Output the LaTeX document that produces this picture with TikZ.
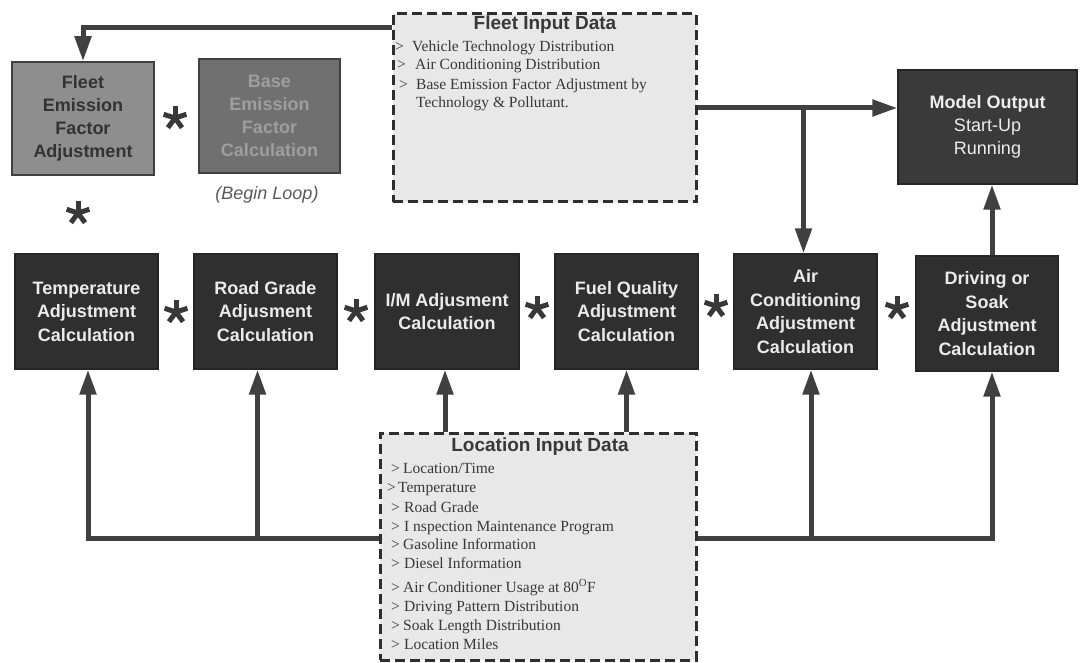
\documentclass[tikz,border=0pt]{standalone}
\usepackage{fontspec}
\setmainfont{Liberation Serif}
\setsansfont{Liberation Sans}
\usetikzlibrary{arrows.meta}
\definecolor{darkbox}{HTML}{2F2F2F}
\definecolor{modelbox}{HTML}{3A3A3A}
\definecolor{fleetbox}{HTML}{8E8E8E}
\definecolor{basebox}{HTML}{707070}
\definecolor{inputfill}{HTML}{E8E8E8}
\definecolor{arrowc}{HTML}{404040}
\definecolor{txtc}{HTML}{383838}
\begin{document}
\begin{tikzpicture}[x=1pt,y=-1pt,
  darkbx/.style={draw=black!85, line width=1.2pt, fill=darkbox, text=white!92!black,
    font=\sffamily\bfseries\fontsize{18}{23.5}\selectfont, align=center, inner sep=0pt},
  graybx/.style={draw=black!75, line width=1.5pt, align=center, inner sep=0pt,
    font=\sffamily\bfseries\fontsize{18}{23}\selectfont},
  databx/.style={draw=black!82, dashed, dash pattern=on 10pt off 5pt, line width=3pt,
    fill=inputfill, inner sep=0pt},
  ttl/.style={font=\sffamily\bfseries\fontsize{19}{22}\selectfont, text=txtc, inner sep=0pt},
  dtxt/.style={font=\fontsize{15.5}{19}\selectfont, text=txtc, anchor=base west, inner sep=0pt},
  arr/.style={line width=5pt, draw=arrowc, -{Triangle[length=25pt,width=16pt]}},
  astline/.style={line width=5pt, draw=txtc},
  ast/.pic={\foreach \a in {-90,-18,-162,54,126} \draw[astline] (0,0) -- (\a:12);}
]
\useasboundingbox (0,0) rectangle (1080,663);

% input data boxes
\node[databx, minimum width=303pt, minimum height=188pt] (fin) at (544.5,108) {};
\node[databx, minimum width=316pt, minimum height=227pt] (lin) at (538,546.5) {};

% top row
\node[graybx, fill=fleetbox, text=black!80, minimum width=142pt, minimum height=113pt] (fleet) at (83,118.5)
  {Fleet\\Emission\\Factor\\Adjustment};
\node[graybx, fill=basebox, text=black!38, minimum width=141pt, minimum height=114pt] (base) at (269.5,116)
  {Base\\Emission\\Factor\\Calculation};
\node[draw=black!85, line width=1.2pt, fill=modelbox, text=white!93!black, align=center, inner sep=0pt,
  font=\sffamily\fontsize{18}{23}\selectfont, minimum width=179pt, minimum height=114pt] (model) at (987.5,127)
  {\textbf{Model Output}\\Start-Up\\Running};
\node[font=\sffamily\itshape\fontsize{18}{22}\selectfont, text=black!65, inner sep=0pt] (bl) at (267,195) {(Begin Loop)};

% second row
\node[darkbx, minimum width=143pt, minimum height=115pt] (temp) at (86.5,311.5) {Temperature\\Adjustment\\Calculation};
\node[darkbx, minimum width=143pt, minimum height=115pt] (road) at (265.5,311.5) {Road Grade\\Adjusment\\Calculation};
\node[darkbx, minimum width=144pt, minimum height=115pt] (im) at (447,311.5) {I/M Adjusment\\Calculation};
\node[darkbx, minimum width=143pt, minimum height=115pt] (fuel) at (626.5,311.5) {Fuel Quality\\Adjustment\\Calculation};
\node[darkbx, minimum width=143pt, minimum height=115pt] (ac) at (805.5,311.5) {Air\\Conditioning\\Adjustment\\Calculation};
\node[darkbx, minimum width=142pt, minimum height=115pt] (drv) at (987,313.5) {Driving or\\Soak\\Adjustment\\Calculation};

% asterisks
\pic at (175,118) {ast};
\pic at (78,213) {ast};
\pic at (176,312) {ast};
\pic at (356,311) {ast};
\pic at (537,308) {ast};
\pic at (716,306) {ast};
\pic at (897,308) {ast};

% fleet input text
\node[ttl] (fint) at (545,25) {Fleet Input Data};
\node[dtxt] (f1) at (395,52) {\makebox[17pt][l]{>}Vehicle Technology Distribution};
\node[dtxt] (f2) at (397,70) {\makebox[18pt][l]{>}Air Conditioning Distribution};
\node[dtxt] (f3) at (399,90) {\makebox[17pt][l]{>}Base Emission Factor Adjustment by};
\node[dtxt] (f4) at (416,108) {Technology \& Pollutant.};

% location input text
\node[ttl] (lint) at (540,447) {Location Input Data};
\node[dtxt] (l1) at (391,473) {\makebox[12pt][l]{>}Location/Time};
\node[dtxt] (l2) at (387,492) {\makebox[11pt][l]{>}Temperature};
\node[dtxt] (l3) at (391,512) {\makebox[13pt][l]{>}Road Grade};
\node[dtxt] (l4) at (391,531) {\makebox[13pt][l]{>}I nspection Maintenance Program};
\node[dtxt] (l5) at (391,549) {\makebox[12pt][l]{>}Gasoline Information};
\node[dtxt] (l6) at (391,568) {\makebox[13pt][l]{>}Diesel Information};
\node[dtxt] (l7) at (391,592) {\makebox[12pt][l]{>}Air Conditioner Usage at 80\textsuperscript{O}F};
\node[dtxt] (l8) at (391,611) {\makebox[13pt][l]{>}Driving Pattern Distribution};
\node[dtxt] (l9) at (391,630) {\makebox[12pt][l]{>}Soak Length Distribution};
\node[dtxt] (l10) at (391,649) {\makebox[13pt][l]{>}Location Miles};

% connectors
\draw[arr] ([yshift=-15pt]fin.north west) -| (fleet.north);
\draw[arr] (fin.east) -- (fin.east -| model.west);
\draw[arr] ([xshift=-2pt]ac.north |- fin.east) -- ([xshift=-2pt]ac.north);
\draw[arr] ([xshift=5pt]drv.north) -- ([xshift=5pt]drv.north |- model.south);
\draw[arr] ([xshift=-2pt]im.south |- lin.north) -- ([xshift=-2pt]im.south);
\draw[arr] (fuel.south |- lin.north) -- (fuel.south);
\coordinate (ll) at ([yshift=-107pt]lin.north west);
\coordinate (lr) at ([yshift=-107pt]lin.north east);
\draw[arr] (ll) -| ([xshift=1.5pt]temp.south);
\draw[arr] ([xshift=-8pt]road.south |- ll) -- ([xshift=-8pt]road.south);
\draw[arr] (lr) -| ([xshift=5pt]drv.south);
\draw[arr] ([xshift=5.5pt]ac.south |- lr) -- ([xshift=5.5pt]ac.south);
\end{tikzpicture}
\end{document}
